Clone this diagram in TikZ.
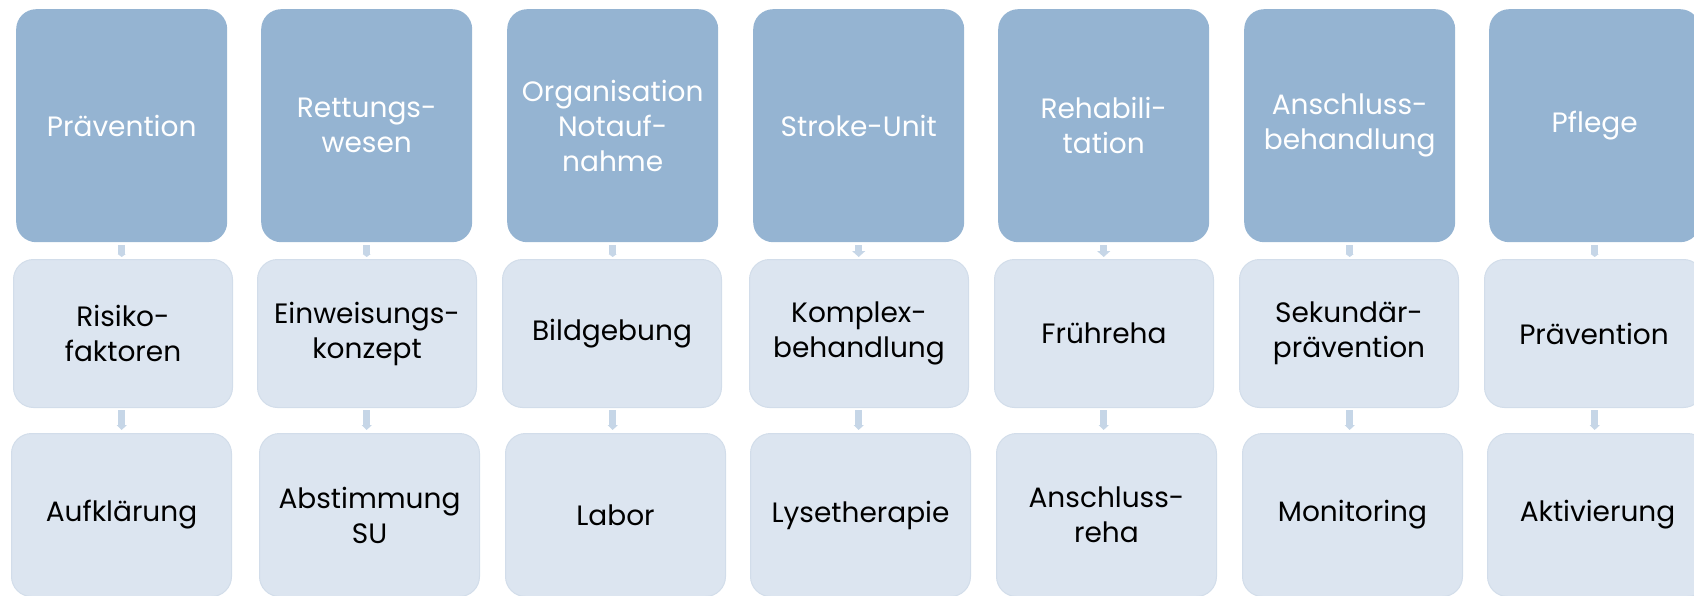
\documentclass[tikz,border=0pt]{standalone}
\usepackage{fontspec}
\setmainfont{Poppins}
\usetikzlibrary{arrows.meta}
\definecolor{topc}{HTML}{95B4D2}
\definecolor{lightc}{HTML}{DCE5F0}
\definecolor{lightb}{HTML}{D2DDEA}
\definecolor{connc}{HTML}{C6D6E7}
\tikzset{
  base/.style={anchor=north west, rounded corners=20pt, inner sep=2pt, align=center,
    font=\fontsize{28}{35}\selectfont},
  topbox/.style={base, fill=topc, draw=none, text=white, minimum width=211pt, minimum height=233pt},
  midbox/.style={base, fill=lightc, draw=lightb, line width=1pt, text=black, minimum width=219pt, minimum height=148pt},
  botbox/.style={base, fill=lightc, draw=lightb, line width=1pt, text=black, minimum width=220pt, minimum height=163pt},
  conn/.style={draw=connc, line width=7pt, shorten <=3pt, shorten >=2pt},
  stubtip/.style={conn, -{Triangle[width=8pt,length=3pt]}},
  widetip/.style={conn, -{Triangle[width=13pt,length=6pt]}},
  lowtip/.style={conn, shorten <=2pt, shorten >=3pt, -{Triangle[width=10pt,length=5pt]}}
}
\begin{document}
\begin{tikzpicture}[x=1pt,y=-1pt]
\useasboundingbox (0,0) rectangle (1694,596);
\clip (0,0) rectangle (1694,596);
% top row
\node[topbox] (t1) at (16,9) {Prävention};
\node[topbox] (t2) at (261,9) {Rettungs-\\wesen};
\node[topbox] (t3) at (507,9) {Organisation\\Notauf-\\nahme};
\node[topbox] (t4) at (753,9) {Stroke-Unit};
\node[topbox] (t5) at (998,9) {Rehabili-\\tation};
\node[topbox] (t6) at (1244,9) {Anschluss-\\behandlung};
\node[topbox] (t7) at (1489,9) {Pflege};
% middle row
\node[midbox] (m1) at (13,259) {Risiko-\\faktoren};
\node[midbox] (m2) at (257,259) {Einweisungs-\\konzept};
\node[midbox] (m3) at (502,259) {Bildgebung};
\node[midbox] (m4) at (749,259) {Komplex-\\behandlung};
\node[midbox] (m5) at (994,259) {Frühreha};
\node[midbox] (m6) at (1239,259) {Sekundär-\\prävention};
\node[midbox] (m7) at (1484,259) {Prävention};
% bottom row
\node[botbox] (b1) at (11,433) {Aufklärung};
\node[botbox] (b2) at (259,433) {Abstimmung\\SU};
\node[botbox] (b3) at (505,433) {Labor};
\node[botbox] (b4) at (750,433) {Lysetherapie};
\node[botbox] (b5) at (996,433) {Anschluss-\\reha};
\node[botbox] (b6) at (1242,433) {Monitoring};
\node[botbox] (b7) at (1487,433) {Aktivierung};
% connectors top -> middle
\draw[stubtip] (t1.south) -- (t1.south |- m1.north);
\draw[stubtip] (t2.south) -- (t2.south |- m2.north);
\draw[stubtip] (t3.south) -- (t3.south |- m3.north);
\draw[widetip] (t4.south) -- (t4.south |- m4.north);
\draw[widetip] (t5.south) -- (t5.south |- m5.north);
\draw[stubtip] (t6.south) -- (t6.south |- m6.north);
\draw[stubtip] (t7.south) -- (t7.south |- m7.north);
% connectors middle -> bottom
\draw[lowtip] (t1.south |- m1.south) -- (t1.south |- b1.north);
\draw[lowtip] (t2.south |- m2.south) -- (t2.south |- b2.north);
\draw[lowtip] (t3.south |- m3.south) -- (t3.south |- b3.north);
\draw[lowtip] (t4.south |- m4.south) -- (t4.south |- b4.north);
\draw[lowtip] (t5.south |- m5.south) -- (t5.south |- b5.north);
\draw[lowtip] (t6.south |- m6.south) -- (t6.south |- b6.north);
\draw[lowtip] (t7.south |- m7.south) -- (t7.south |- b7.north);
\end{tikzpicture}
\end{document}
